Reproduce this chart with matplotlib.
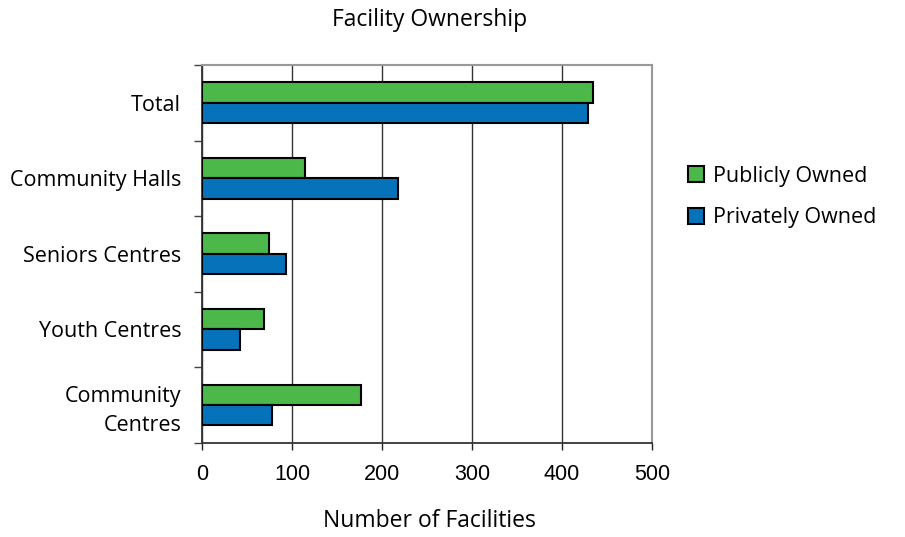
import matplotlib
matplotlib.use("Agg")
import matplotlib.pyplot as plt
import numpy as np

# Data
categories = ["Total", "Community Halls", "Seniors Centres", "Youth Centres",
              "Community\nCentres"]
publicly_owned = [434, 115, 74, 69, 177]
privately_owned = [429, 218, 93, 42, 78]

GREEN = "#4cb84a"
BLUE = "#0672b9"
LABEL_FONT = ["Open Sans", "DejaVu Sans"]
NUM_FONT = ["Liberation Sans", "DejaVu Sans"]

fig = plt.figure(figsize=(9.05, 5.37), dpi=100)
ax = fig.add_axes([0.2232, 0.1756, 0.4972, 0.7034])

y = np.arange(len(categories))
h = 0.27
ax.barh(y - h / 2, publicly_owned, height=h, color=GREEN, edgecolor="black",
        linewidth=1.5, label="Publicly Owned", zorder=3)
ax.barh(y + h / 2, privately_owned, height=h, color=BLUE, edgecolor="black",
        linewidth=1.5, label="Privately Owned", zorder=3)

ax.set_xlim(0, 500)
ax.set_ylim(len(categories) - 0.5, -0.5)

ax.set_xticks(np.arange(0, 501, 100))
ax.tick_params(axis="x", direction="out", length=5, width=1, colors="#222222",
               labelsize=15.5, pad=10)
for t in ax.get_xticklabels():
    t.set_family(NUM_FONT)
    t.set_color("black")

ax.set_yticks(y)
ax.set_yticklabels(categories, fontsize=15.5, family=LABEL_FONT, ha="right",
                   linespacing=1.45)
ax.tick_params(axis="y", which="major", length=0, pad=15)
ax.set_yticks(np.arange(-0.5, len(categories) + 0.5, 1), minor=True)
ax.tick_params(axis="y", which="minor", length=6, width=1, color="#444444")

ax.xaxis.grid(True, color="#333333", linewidth=1, zorder=0)
ax.set_axisbelow(True)

for side in ("top", "right"):
    ax.spines[side].set_color("#999999")
    ax.spines[side].set_linewidth(1.5)
for side in ("left", "bottom"):
    ax.spines[side].set_color("#333333")
    ax.spines[side].set_linewidth(1.3)

fig.text(0.475, 0.962, "Facility Ownership", ha="center", va="center",
         fontsize=16.5, family=LABEL_FONT)
fig.text(0.475, 0.03, "Number of Facilities", ha="center", va="center",
         fontsize=16.5, family=LABEL_FONT)

fig.legend(loc="upper left", bbox_to_anchor=(0.739, 0.7275), frameon=False,
           prop={"family": LABEL_FONT, "size": 15.5}, handlelength=0.75,
           handleheight=0.75, handletextpad=0.4, labelspacing=0.95)

fig.savefig("out.png", dpi=100)
